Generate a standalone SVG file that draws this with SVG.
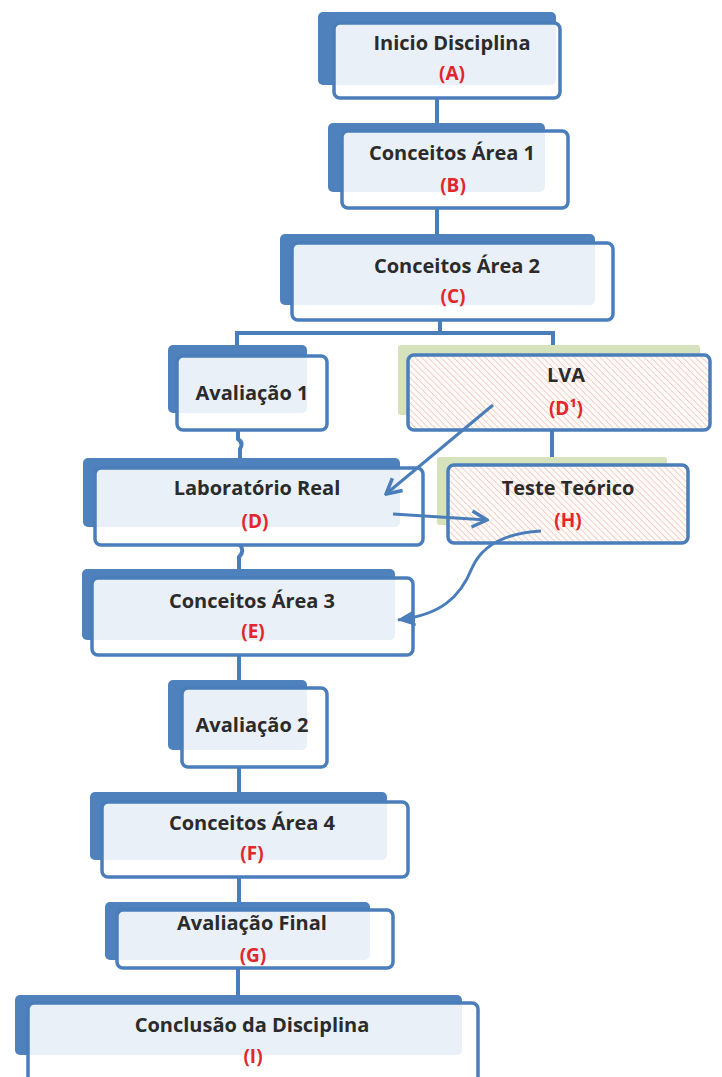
<svg xmlns="http://www.w3.org/2000/svg" width="722" height="1077" viewBox="0 0 722 1077">
<defs>
<style>
.back{fill:#4F81BD;}
.backg{fill:#D5E2BC;}
.front{fill:#FFFFFF;fill-opacity:0.88;stroke:#4A7EBB;stroke-width:3.5;}
.fronth{fill:url(#hatch);stroke:#4A7EBB;stroke-width:3.5;}
.t{font-family:"Open Sans","Liberation Sans",sans-serif;font-weight:bold;font-size:20px;fill:#2B2B2B;text-anchor:middle;}
.l{font-family:"Open Sans","Liberation Sans",sans-serif;font-weight:bold;font-size:19px;fill:#E2262B;text-anchor:middle;}
.c{fill:none;stroke:#4A7EBB;stroke-width:4;}
.a{fill:none;stroke:#4A7EBB;stroke-width:3;}
</style>
<pattern id="hatch" patternUnits="userSpaceOnUse" width="4.5" height="4.5" patternTransform="rotate(-45)">
<rect width="4.5" height="4.5" fill="#FDFAF8"/>
<line x1="0" y1="0" x2="0" y2="4.5" stroke="#F2C3B8" stroke-width="1.5"/>
</pattern>
<marker id="open" markerUnits="userSpaceOnUse" markerWidth="20" markerHeight="20" viewBox="0 0 20 20" refX="18" refY="10" orient="auto">
<path d="M3,2 L18,10 L3,18" fill="none" stroke="#4A7EBB" stroke-width="3.5"/>
</marker>
<marker id="tri" markerUnits="userSpaceOnUse" markerWidth="18" markerHeight="16" viewBox="0 0 18 16" refX="17" refY="8" orient="auto">
<path d="M0,0 L18,8 L0,16 Z" fill="#4A7EBB"/>
</marker>
</defs>
<rect width="722" height="1077" fill="#FFFFFF"/>

<g id="node-A">
<rect class="back" x="318" y="12" width="238" height="73" rx="5"/>
<rect class="front" x="334" y="23" width="226" height="75" rx="6"/>
<text class="t" x="452" y="50">Inicio Disciplina</text>
<text class="l" x="452" y="80">(A)</text>
</g>

<g id="node-B">
<rect class="back" x="328" y="123" width="217" height="69" rx="5"/>
<rect class="front" x="342" y="131" width="226" height="77" rx="6"/>
<text class="t" x="452" y="160">Conceitos Área 1</text>
<text class="l" x="453" y="192">(B)</text>
</g>

<g id="node-C">
<rect class="back" x="280" y="234" width="315" height="71" rx="5"/>
<rect class="front" x="292" y="243" width="321" height="77" rx="6"/>
<text class="t" x="457" y="273">Conceitos Área 2</text>
<text class="l" x="453" y="303">(C)</text>
</g>

<g id="node-Aval1">
<rect class="back" x="168" y="345" width="139" height="68" rx="5"/>
<rect class="front" x="177" y="356" width="150" height="74" rx="6"/>
<text class="t" x="252" y="400">Avaliação 1</text>
</g>

<g id="node-LVA">
<rect class="backg" x="398" y="345" width="302" height="70" rx="3"/>
<rect class="fronth" x="408" y="355" width="302" height="75" rx="6"/>
<text class="t" x="566" y="382">LVA</text>
<text class="l" x="566" y="415">(D¹)</text>
</g>

<g id="node-Teste">
<rect class="backg" x="437" y="457" width="230" height="68" rx="3"/>
<rect class="fronth" x="448" y="465" width="240" height="78" rx="6"/>
<text class="t" x="568" y="495">Teste Teórico</text>
<text class="l" x="568" y="527">(H)</text>
</g>

<g id="node-Lab">
<rect class="back" x="83" y="458" width="317" height="69" rx="5"/>
<rect class="front" x="95" y="468" width="328" height="77" rx="6"/>
<text class="t" x="257" y="495">Laboratório Real</text>
<text class="l" x="255" y="528">(D)</text>
</g>

<g id="node-E">
<rect class="back" x="82" y="569" width="313" height="71" rx="5"/>
<rect class="front" x="92" y="578" width="321" height="77" rx="6"/>
<text class="t" x="252" y="608">Conceitos Área 3</text>
<text class="l" x="253" y="638">(E)</text>
</g>

<g id="node-Aval2">
<rect class="back" x="168" y="680" width="139" height="70" rx="5"/>
<rect class="front" x="182" y="688" width="145" height="79" rx="6"/>
<text class="t" x="252" y="732">Avaliação 2</text>
</g>

<g id="node-F">
<rect class="back" x="90" y="792" width="297" height="68" rx="5"/>
<rect class="front" x="102" y="802" width="306" height="75" rx="6"/>
<text class="t" x="252" y="830">Conceitos Área 4</text>
<text class="l" x="252" y="860">(F)</text>
</g>

<g id="node-G">
<rect class="back" x="105" y="902" width="265" height="58" rx="5"/>
<rect class="front" x="117" y="910" width="276" height="58" rx="6"/>
<text class="t" x="252" y="930">Avaliação Final</text>
<text class="l" x="253" y="962">(G)</text>
</g>

<g id="node-I">
<rect class="back" x="15" y="995" width="447" height="60" rx="5"/>
<rect class="front" x="28" y="1003" width="450" height="90" rx="6"/>
<text class="t" x="252" y="1032">Conclusão da Disciplina</text>
<text class="l" x="253" y="1063">(I)</text>
</g>

<g id="connectors">
<path class="c" d="M437,98 V123"/>
<path class="c" d="M437,208 V234"/>
<path class="c" d="M440,320 V333"/>
<path class="c" d="M237,345 V333 H553 V345"/>
<path class="c" d="M238,430 V439 Q244,443 240,449 V458"/>
<path class="c" d="M552,430 V457"/>
<path class="c" d="M240,545 Q245,551 239,557 V569"/>
<path class="c" d="M239,655 V680"/>
<path class="c" d="M239,767 V792"/>
<path class="c" d="M239,877 V902"/>
<path class="c" d="M238,968 V995"/>
<path class="a" d="M493,405 L386,494" marker-end="url(#open)"/>
<path class="a" d="M393,514 L487,520" marker-end="url(#open)"/>
<path class="a" d="M541,531 C505,533 482,545 472,568 C460,598 440,615 398,620" marker-end="url(#tri)"/>
</g>
</svg>
